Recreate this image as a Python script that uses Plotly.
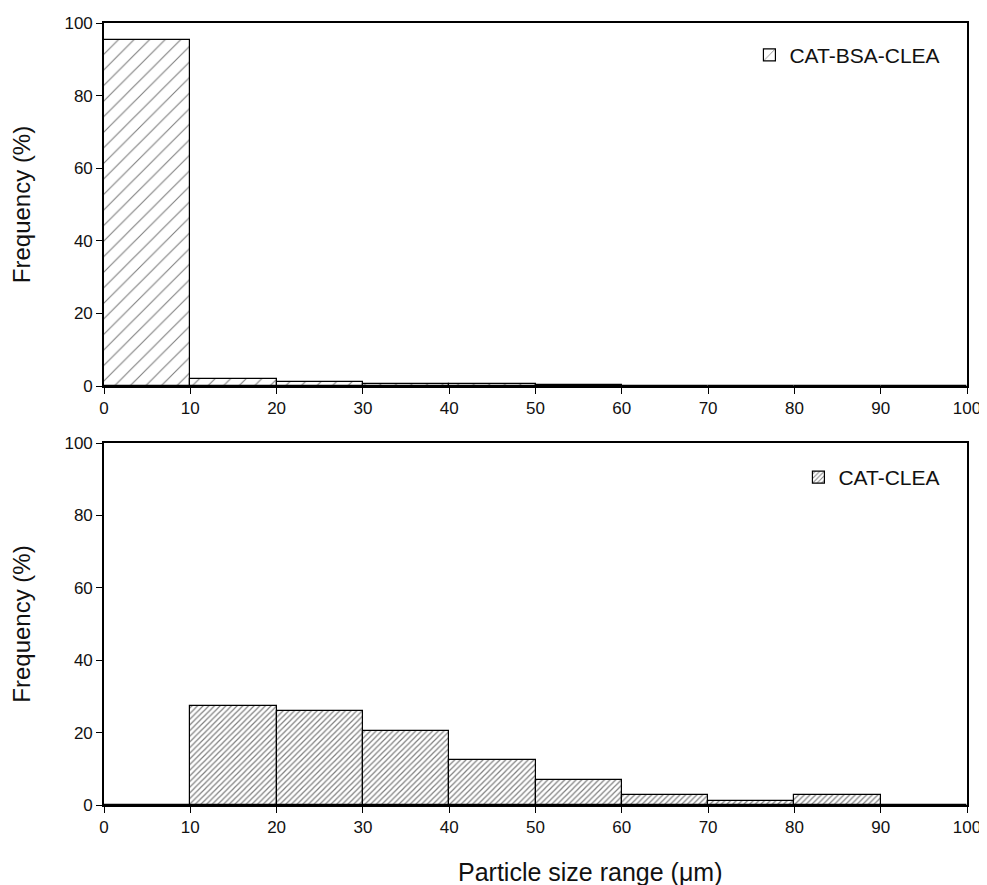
import plotly.graph_objects as go

# Data
bin_centers = [5, 15, 25, 35, 45, 55, 65, 75, 85, 95]
bsa_clea = [95.2, 1.8, 1.2, 0.5, 0.5, 0.2, 0, 0, 0, 0]
cat_clea = [0, 27.4, 26.0, 20.5, 12.4, 6.9, 2.7, 1.2, 2.7, 0]
x_ticks = [0, 10, 20, 30, 40, 50, 60, 70, 80, 90, 100]
y_ticks = [0, 20, 40, 60, 80, 100]

FONT = "Liberation Sans, Arial, sans-serif"

fig = go.Figure()
fig.add_trace(go.Bar(
    x=bin_centers, y=bsa_clea, width=10, name="CAT-BSA-CLEA",
    marker=dict(color="white", line=dict(color="black", width=1.2),
                pattern=dict(shape="/", fgcolor="black", bgcolor="white", size=11, solidity=0.1)),
    xaxis="x", yaxis="y", legend="legend",
))
fig.add_trace(go.Bar(
    x=bin_centers, y=cat_clea, width=10, name="CAT-CLEA",
    marker=dict(color="white", line=dict(color="black", width=1.2),
                pattern=dict(shape="/", fgcolor="black", bgcolor="white", size=4, solidity=0.3)),
    xaxis="x2", yaxis="y2", legend="legend2",
))

axis_common = dict(
    showline=True, linecolor="black", linewidth=1.6, mirror=True,
    ticks="outside", ticklen=6, tickwidth=1.3, tickcolor="black",
    showgrid=False, zeroline=False, automargin=False,
    tickfont=dict(family=FONT, size=17, color="#111"),
)

title_font = dict(family=FONT, size=24, color="#111")

fig.update_layout(
    width=979, height=877,
    margin=dict(l=96, r=20, t=15, b=80),
    paper_bgcolor="white", plot_bgcolor="white",
    bargap=0,
    font=dict(family=FONT, color="black"),
    xaxis=dict(domain=[0, 1], anchor="y", range=[0, 100], tickvals=x_ticks, **axis_common),
    yaxis=dict(domain=[0.5358, 1], anchor="x", range=[0, 100], tickvals=y_ticks,
               title=dict(text="Frequency (%)", font=title_font, standoff=28),
               **axis_common),
    xaxis2=dict(domain=[0, 1], anchor="y2", range=[0, 100], tickvals=x_ticks, **axis_common),
    yaxis2=dict(domain=[0, 0.4629], anchor="x2", range=[0, 100], tickvals=y_ticks,
                title=dict(text="Frequency (%)", font=title_font, standoff=28),
                **axis_common),
    legend=dict(x=0.975, y=0.985, xanchor="right", yanchor="top", bgcolor="rgba(0,0,0,0)",
                font=dict(family=FONT, size=21, color="#111")),
    legend2=dict(x=0.975, y=0.445, xanchor="right", yanchor="top", bgcolor="rgba(0,0,0,0)",
                 font=dict(family=FONT, size=21, color="#111")),
    showlegend=True,
    annotations=[dict(
        text="Particle size range (\u03bcm)", xref="paper", yref="paper",
        x=0.563, y=-0.086, xanchor="center", yanchor="middle", showarrow=False,
        font=dict(family=FONT, size=25, color="#111"),
    )],
)

fig.write_html("out.html")
